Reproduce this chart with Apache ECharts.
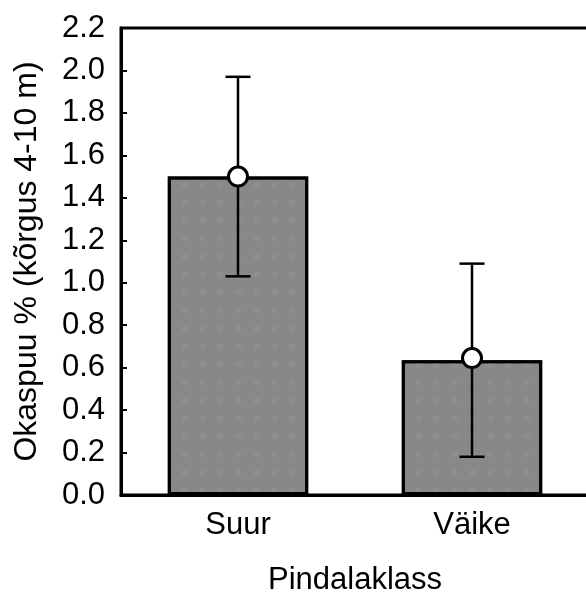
<!DOCTYPE html>
<html><head><meta charset="utf-8">
<script src="https://cdn.jsdelivr.net/npm/echarts@6/dist/echarts.min.js"></script>
<style>html,body{margin:0;padding:0;background:#fff}#c{width:586px;height:592px}</style>
</head><body><div id="c"></div>
<script>
const categories = ['Suur', 'Väike'];
const barValues = [1.50, 0.635];
const meanValues = [1.50, 0.645];
const errLow = [1.03, 0.18];
const errHigh = [1.97, 1.09];
const yTicks = {min: 0, max: 2.2, interval: 0.2};

const FONT = '"Liberation Sans", Arial, sans-serif';
const FS = 31;
const chart = echarts.init(document.getElementById('c'), null, {renderer: 'canvas'});
chart.setOption({
  animation: false,
  backgroundColor: '#fff',
  grid: {left: 121, right: -3, top: 28, bottom: 97, show: true, borderColor: '#000', borderWidth: 3, containLabel: false, outerBoundsMode: 'none'},
  xAxis: {
    type: 'category', data: categories, z: 5,
    axisLine: {lineStyle: {color: '#000', width: 3}},
    axisTick: {inside: true, alignWithLabel: true, length: 5, lineStyle: {color: '#000', width: 2}},
    axisLabel: {color: '#000', fontSize: FS, fontFamily: FONT, margin: 15},
    name: 'Pindalaklass', nameLocation: 'middle', nameGap: 70,
    nameTextStyle: {color: '#000', fontSize: FS, fontFamily: FONT}
  },
  yAxis: {
    type: 'value', min: yTicks.min, max: yTicks.max, interval: yTicks.interval,
    axisLine: {show: true, lineStyle: {color: '#000', width: 3}},
    axisTick: {show: true, inside: true, length: 6, lineStyle: {color: '#000', width: 2}},
    splitLine: {show: false},
    axisLabel: {color: '#000', fontSize: FS, fontFamily: FONT, margin: 16, formatter: v => v.toFixed(1)},
    name: 'Okaspuu % (kõrgus 4-10 m)', nameLocation: 'middle', nameGap: 78, nameRotate: 90,
    nameTextStyle: {color: '#000', fontSize: 32, fontFamily: FONT}
  },
  series: [
    {
      type: 'bar', data: barValues, barWidth: '60%',
      itemStyle: {
        color: '#888888', borderColor: '#000', borderWidth: 3,
        decal: {symbol: 'circle', symbolSize: 0.7, dashArrayX: [9, 9], dashArrayY: [9, 9], color: 'rgba(170,170,170,0.2)', rotation: 0}
      },
      z: 2
    },
    {
      type: 'custom', z: 3,
      data: categories.map((c, i) => [i, errLow[i], errHigh[i]]),
      renderItem: (params, api) => {
        const lo = api.coord([api.value(0), api.value(1)]);
        const hi = api.coord([api.value(0), api.value(2)]);
        const hw = 12.5;
        const st = {stroke: '#000', lineWidth: 2.5};
        return {type: 'group', children: [
          {type: 'line', shape: {x1: lo[0], y1: lo[1], x2: hi[0], y2: hi[1]}, style: st},
          {type: 'line', shape: {x1: lo[0] - hw, y1: lo[1], x2: lo[0] + hw, y2: lo[1]}, style: st},
          {type: 'line', shape: {x1: hi[0] - hw, y1: hi[1], x2: hi[0] + hw, y2: hi[1]}, style: st}
        ]};
      }
    },
    {
      type: 'scatter', data: meanValues, symbol: 'circle', symbolSize: 19, z: 4,
      itemStyle: {color: '#fff', borderColor: '#000', borderWidth: 3, opacity: 1}
    }
  ]
});
</script></body></html>
